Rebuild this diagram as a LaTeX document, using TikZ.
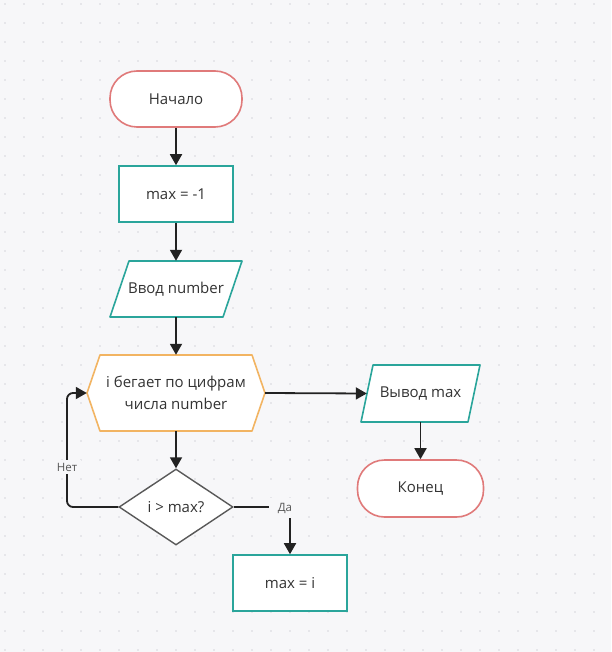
\documentclass[tikz,border=0pt]{standalone}
\usepackage{fontspec}
\setmainfont{Open Sans}
\usetikzlibrary{arrows.meta,shapes.geometric}
\definecolor{bg}{HTML}{F7F7F9}
\definecolor{dotc}{HTML}{D6D6DB}
\definecolor{termc}{HTML}{E07A7A}
\definecolor{procc}{HTML}{2AA59B}
\definecolor{loopc}{HTML}{F2B462}
\definecolor{linec}{HTML}{222222}
\definecolor{txtc}{HTML}{333333}
\definecolor{lblc}{HTML}{555555}
\tikzset{
  txt/.style={inner sep=0pt, text=txtc, font=\fontsize{15}{21.5}\selectfont, align=center},
  term/.style={txt, draw=termc, fill=white, line width=1.6pt, rounded corners=27pt},
  proc/.style={txt, draw=procc, fill=white, line width=1.6pt},
  shp/.style={fill=white, line width=1.6pt, line join=round},
  dec/.style={txt, diamond, aspect=1.5, draw=linec!75, fill=white, line width=1.4pt},
  conn/.style={draw=linec, line width=1.8pt, -{Triangle[length=11pt,width=12pt]}},
  lbl/.style={fill=bg, text=lblc, font=\fontsize{11.5}{13}\selectfont, inner xsep=4pt, inner ysep=3pt}
}
\begin{document}
\begin{tikzpicture}[x=1pt,y=-1pt]
\fill[bg] (0,0) rectangle (611,652);
\useasboundingbox (0,0) rectangle (611,652);
\foreach \x in {5,24,...,605}
  \foreach \y in {4,23,...,650}
    \fill[dotc] (\x,\y) circle (0.9pt);

% shapes drawn directly
\filldraw[shp, draw=procc] (129,261) -- (242,261) -- (223,317) -- (110,317) -- cycle;
\filldraw[shp, draw=loopc] (100,355) -- (252,355) -- (265,393) -- (252,431) -- (100,431) -- (87,393) -- cycle;
\filldraw[shp, draw=procc] (373,365) -- (480,365) -- (468,422) -- (361,422) -- cycle;

% nodes
\node[term, minimum width=132pt, minimum height=56pt] (start) at (176,99) {Начало};
\node[proc, minimum width=114pt, minimum height=56pt] (init) at (176,194) {max = -1};
\node[txt, minimum width=113pt, minimum height=56pt] (in) at (176,289) {Ввод number};
\node[txt, minimum width=178pt, minimum height=76pt] (loop) at (176,393) {i бегает по цифрам\\числа number};
\node[dec, minimum width=114pt, minimum height=76pt] (cmp) at (176,507) {i > max?};
\node[proc, minimum width=114pt, minimum height=56pt] (upd) at (290,583) {max = i};
\node[txt, minimum width=107pt, minimum height=57pt] (out) at (420.5,393.5) {Вывод max};
\node[term, minimum width=126pt, minimum height=57pt] (end) at (420.5,488.5) {Конец};
\coordinate (back) at (67,393);

% connectors
\draw[conn] (start) -- (init);
\draw[conn] (init) -- (in);
\draw[conn] (in) -- (loop);
\draw[conn] (loop) -- (cmp);
\draw[conn] (loop.east) -- (out.west);
\draw[conn] (out) -- (end);
\draw[conn, rounded corners=6pt] (cmp.west) -| (back) -- (loop.west);
\draw[conn] (cmp.east) -| (upd.north);
\node[lbl] (no) at (67,467) {Нет};
\node[lbl, inner xsep=9pt, inner ysep=5pt] (yes) at (285,508) {Да};
\end{tikzpicture}
\end{document}
